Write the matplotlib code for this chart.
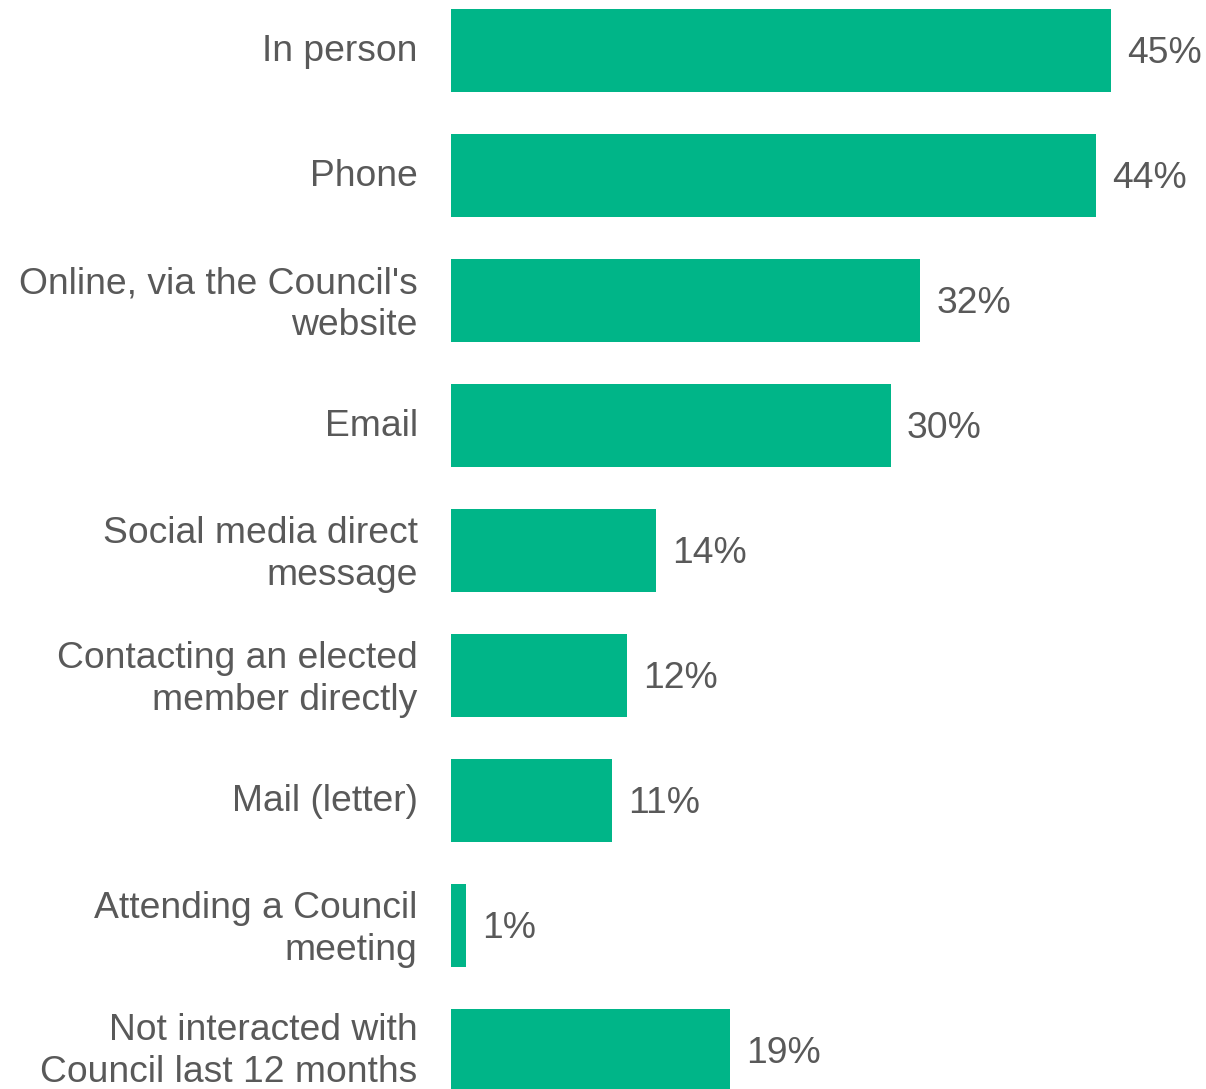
import matplotlib.pyplot as plt
from matplotlib.transforms import ScaledTranslation

plt.rcParams['font.family'] = ['Liberation Sans', 'DejaVu Sans']

# channels used to contact the Council, share of respondents (%)
channels = ['In person', 'Phone', "Online, via the Council's\nwebsite", 'Email',
            'Social media direct\nmessage', 'Contacting an elected\nmember directly',
            'Mail (letter)', 'Attending a Council\nmeeting',
            'Not interacted with\nCouncil last 12 months']
shares = [45, 44, 32, 30, 14, 12, 11, 1, 19]

bar_color = '#00B588'
text_color = '#595959'

fig = plt.figure(figsize=(12.06, 10.89), dpi=100)
ax = fig.add_axes([451 / 1206, 0, 660 / 1206, 1])

pos = list(range(len(channels)))
ax.barh(pos, shares, height=0.664, color=bar_color)
ax.set_xlim(0, 45)
ax.set_ylim(8.308, -0.404)

for y, v in zip(pos, shares):
    ax.annotate(f'{v}%', xy=(v, y), xytext=(11.5, -2), textcoords='offset points',
                ha='left', va='center', fontsize=26.8, color=text_color)

ax.set_yticks(pos)
ax.set_yticklabels(channels, fontsize=26.8, color=text_color, linespacing=1.26)
ax.tick_params(axis='y', length=0, pad=24)
# nudge category labels up a touch, the bottom one a bit more so it stays on the canvas
labels = ax.get_yticklabels()
for i, lab in enumerate(labels):
    dy = 5 if i == len(labels) - 1 else 2.5
    lab.set_transform(lab.get_transform() + ScaledTranslation(0, dy / 72, fig.dpi_scale_trans))
ax.set_xticks([])
for s in ax.spines.values():
    s.set_visible(False)

fig.savefig('out.png', dpi=100)
